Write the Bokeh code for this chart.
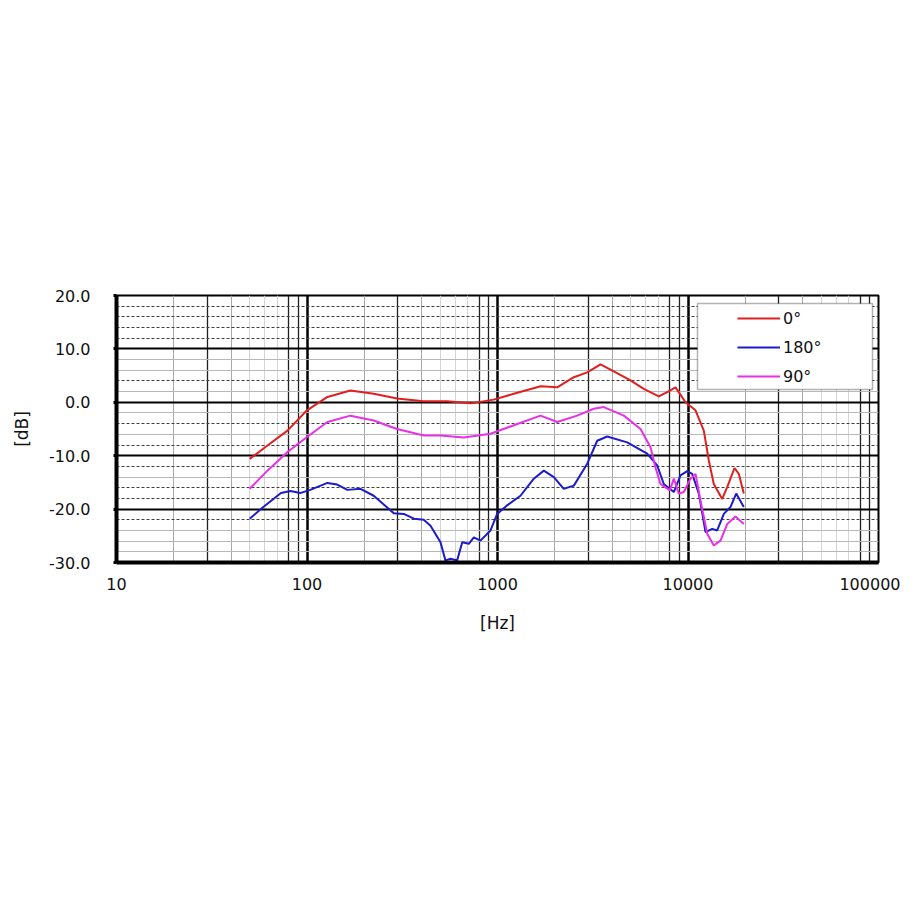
from bokeh.plotting import figure
from bokeh.models import (Range1d, FixedTicker, Grid, PrintfTickFormatter, Legend,
                          LegendItem, BoxAnnotation)
from bokeh.embed import file_html
from bokeh.resources import INLINE

# ---- data ----
freq_0 = [50, 62, 79, 100, 128, 169, 224, 297, 410, 544, 721, 956, 1218, 1682, 2058, 2516,
          2958, 3474, 4078, 4992, 5861, 7027, 7778, 8600, 9703, 10950, 12105, 12860, 13660,
          15120, 16060, 17540, 18480, 19630]
db_0 = [-10.6, -8.1, -5.3, -1.5, 1.0, 2.2, 1.6, 0.7, 0.2, 0.2, -0.2, 0.5, 1.6, 3.0, 2.8, 4.7,
        5.6, 7.1, 5.8, 4.1, 2.5, 1.1, 1.9, 2.8, 0.0, -1.5, -5.3, -10.9, -15.3,
        -18.1, -15.9, -12.3, -13.4, -17.1]

freq_180 = [50, 59, 73, 82, 92, 104, 128, 144, 163, 191, 224, 286, 322, 364, 410, 445, 502,
            533, 567, 614, 653, 707, 751, 814, 919, 996, 1124, 1320, 1551, 1750, 1975, 2228,
            2516, 2958, 3338, 3766, 4796, 6106, 6890, 7464, 8425, 9133, 9903, 10520, 11400,
            12360, 13400, 14230, 15420, 16720, 17910, 19630]
db_180 = [-21.8, -19.6, -17.0, -16.6, -17.0, -16.4, -15.1, -15.4, -16.4, -16.2, -17.5, -20.8,
          -20.9, -21.8, -22.0, -23.1, -26.2, -29.6, -29.3, -29.6, -26.2, -26.5, -25.3, -25.9,
          -24.0, -20.9, -19.3, -17.5, -14.3, -12.8, -14.0, -16.2, -15.6, -11.5, -7.2, -6.4,
          -7.5, -9.6, -11.8, -15.3, -16.8, -13.7, -12.9, -13.4, -17.1, -24.3, -23.7, -24.0,
          -20.9, -19.6, -17.1, -19.6]

freq_90 = [50, 62, 79, 100, 128, 169, 224, 297, 410, 502, 665, 919, 1218, 1682, 2058, 2620,
           3202, 3614, 4603, 5633, 6357, 6751, 7171, 8026, 8425, 8946, 9506, 10306, 10950,
           11630, 12615, 13660, 14810, 16060, 17750, 19630]
db_90 = [-16.2, -12.8, -9.3, -6.5, -3.7, -2.5, -3.4, -5.0, -6.2, -6.2, -6.6, -5.9, -4.3, -2.5,
         -3.7, -2.5, -1.2, -0.9, -2.5, -5.0, -8.4, -12.2, -15.3, -16.5, -14.3, -17.1, -16.8,
         -14.3, -13.4, -18.4, -24.6, -26.8, -25.9, -22.8, -21.4, -22.8]

series_labels = ["0°", "180°", "90°"]
x_ticks = [10, 100, 1000, 10000, 100000]
y_ticks = [-30, -20, -10, 0, 10, 20]

# ---- figure ----
FONT = "DejaVu Sans"
p = figure(width=900, height=900, x_axis_type="log", output_backend="svg",
           toolbar_location=None, x_range=Range1d(10, 100000), y_range=Range1d(-30, 20),
           min_border_left=116, min_border_right=22, min_border_top=295,
           min_border_bottom=338)
p.background_fill_color = "white"
p.border_fill_color = "white"
p.outline_line_color = "black"
p.outline_line_width = 2

# hide default grids
p.xgrid.visible = False
p.ygrid.visible = False

decades = [10, 100, 1000, 10000]
dark_minor = [d * m for d in decades for m in (3, 8, 9)]
mid_minor = [d * m for d in decades for m in (2, 4)]
faint_minor = [d * m for d in decades for m in (5, 6, 7)]

p.add_layout(Grid(dimension=0, ticker=FixedTicker(ticks=faint_minor),
                  grid_line_color="#d4d4d4", grid_line_width=1))
p.add_layout(Grid(dimension=0, ticker=FixedTicker(ticks=mid_minor),
                  grid_line_color="#a8a8a8", grid_line_width=1))
p.add_layout(Grid(dimension=0, ticker=FixedTicker(ticks=dark_minor),
                  grid_line_color="#202020", grid_line_width=1.3))
p.add_layout(Grid(dimension=0, ticker=FixedTicker(ticks=[100, 1000, 10000]),
                  grid_line_color="black", grid_line_width=2.5))

y_dashed = [18, 16, 14, 12, 4, -4, -8, -12, -16, -18, -22]
y_light = [8, 6, 2, -2, -6, -14, -24, -26, -28]
p.add_layout(Grid(dimension=1, ticker=FixedTicker(ticks=y_light),
                  grid_line_color="#b8b8b8", grid_line_width=1))
p.add_layout(Grid(dimension=1, ticker=FixedTicker(ticks=y_dashed),
                  grid_line_color="#404040", grid_line_width=1.2, grid_line_dash="3 2"))
p.add_layout(Grid(dimension=1, ticker=FixedTicker(ticks=[-20, -10, 0, 10]),
                  grid_line_color="black", grid_line_width=2))

# axes
xa = p.xaxis[0]
xa.ticker = FixedTicker(ticks=x_ticks)
xa.formatter = PrintfTickFormatter(format="%d")
xa.major_tick_out = 0
xa.major_tick_in = 0
xa.minor_tick_out = 0
xa.minor_tick_in = 0
xa.axis_line_width = 4
xa.axis_line_color = "black"
xa.major_label_text_font = FONT
xa.major_label_text_font_size = "16px"
xa.major_label_text_color = "#111111"
xa.major_label_standoff = 15
xa.axis_label = "[Hz]"
xa.axis_label_text_font = FONT
xa.axis_label_text_font_size = "17px"
xa.axis_label_text_font_style = "normal"
xa.axis_label_text_color = "#111111"
xa.axis_label_standoff = 20

ya = p.yaxis[0]
ya.ticker = FixedTicker(ticks=y_ticks)
ya.formatter = PrintfTickFormatter(format="%.1f")
ya.major_tick_out = 3
ya.major_tick_in = 0
ya.major_tick_line_width = 3
ya.minor_tick_out = 0
ya.minor_tick_in = 0
ya.axis_line_width = 4
ya.axis_line_color = "black"
ya.major_label_text_font = FONT
ya.major_label_text_font_size = "16px"
ya.major_label_text_color = "#111111"
ya.major_label_standoff = 23
ya.axis_label = "[dB]"
ya.axis_label_text_font = FONT
ya.axis_label_text_font_size = "17px"
ya.axis_label_text_font_style = "normal"
ya.axis_label_text_color = "#111111"
ya.axis_label_standoff = 14

colors = ["#e02020", "#1c1cc8", "#e830e8"]
r0 = p.line(freq_0, db_0, line_color=colors[0], line_width=2)
r1 = p.line(freq_180, db_180, line_color=colors[1], line_width=2)
r2 = p.line(freq_90, db_90, line_color=colors[2], line_width=2)

# legend frame
box = BoxAnnotation(left=697, right=872, top=303, bottom=389,
                    left_units="canvas", right_units="canvas",
                    top_units="canvas", bottom_units="canvas",
                    fill_color="white", fill_alpha=1.0,
                    line_color="black", line_width=1.5, level="annotation")
p.add_layout(box)

legend = Legend(items=[LegendItem(label=series_labels[0], renderers=[r0]),
                       LegendItem(label=series_labels[1], renderers=[r1]),
                       LegendItem(label=series_labels[2], renderers=[r2])],
                location=(617, 172), orientation="vertical",
                padding=4, spacing=9, margin=0,
                glyph_width=43, glyph_height=20, label_height=20,
                label_standoff=3, label_width=40,
                label_text_font=FONT, label_text_font_size="16px",
                label_text_color="#111111",
                background_fill_alpha=0, border_line_alpha=0)
p.add_layout(legend)

open("out.html", "w").write(file_html(p, INLINE))
